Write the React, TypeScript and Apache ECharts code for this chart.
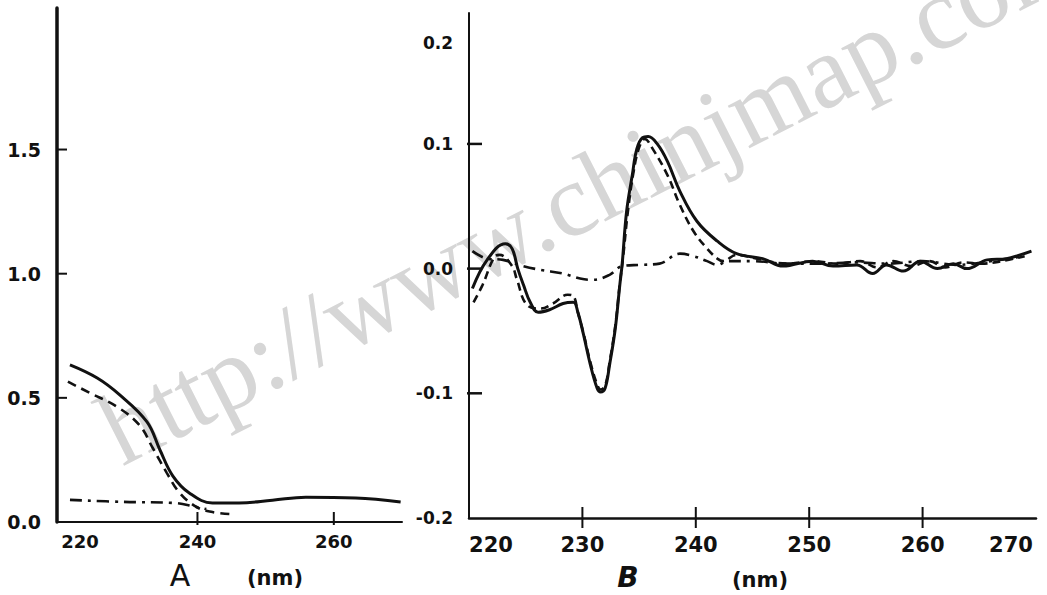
import React, { useEffect, useRef } from "react";
import * as echarts from "echarts";

// ---------- Panel A (absorbance) ----------
const aSolidNm = [221.3, 225.3, 228.6, 232.6, 234.5, 236.4, 238.8, 242.2, 246.1, 251.0, 255.9, 263.2, 269.8];
const aSolidVal = [0.633, 0.58, 0.512, 0.403, 0.29, 0.185, 0.117, 0.077, 0.077, 0.088, 0.1, 0.097, 0.081];
const aDashNm = [221.0, 224.2, 228.2, 231.5, 233.4, 235.5, 237.4, 239.9, 242.2, 244.7];
const aDashVal = [0.565, 0.52, 0.464, 0.39, 0.3, 0.198, 0.117, 0.06, 0.04, 0.032];
const aDotNm = [221.3, 229.1, 236.4, 239.9, 241.3];
const aDotVal = [0.089, 0.081, 0.077, 0.06, 0.052];
const aXRange = [219.4, 270];
const aYRange = [0, 2.07];
const aXLabels = [220, 240, 260];
const aXTicks = [240, 260];
const aYLabels = [0, 0.5, 1.0, 1.5];
const aYTicks = [0.5, 1.0, 1.5];

// ---------- Panel B (CD) ----------
const bSolidNm = [220.3, 221.6, 223.2, 223.8, 224.3, 224.8, 225.4, 226.1, 227.1, 228.3, 229.2, 229.6, 230.1, 230.7, 231.3, 231.6, 232.0, 232.4, 232.9, 233.3, 233.5, 233.9, 234.4, 234.8, 235.3, 235.8, 236.6, 237.5, 238.6, 240.1, 241.9, 243.6, 245.9, 247.7, 250.3, 252.1, 254.2, 255.6, 256.8, 258.3, 259.8, 261.3, 262.7, 263.9, 265.7, 267.4, 268.6, 269.6];
const bSolidVal = [-0.016, 0.007, 0.02, 0.016, 0.0, -0.013, -0.027, -0.035, -0.033, -0.028, -0.027, -0.035, -0.053, -0.077, -0.096, -0.099, -0.096, -0.077, -0.048, -0.013, 0.003, 0.046, 0.075, 0.096, 0.105, 0.106, 0.1, 0.086, 0.062, 0.038, 0.022, 0.012, 0.008, 0.002, 0.006, 0.002, 0.003, -0.004, 0.003, -0.002, 0.006, 0.0, 0.004, 0.0, 0.007, 0.008, 0.011, 0.014];
const bDashNm = [220.4, 221.2, 222.3, 222.7, 223.8, 224.2, 225.1, 226.3, 227.4, 228.7, 229.2, 229.6, 230.1, 230.7, 231.3, 231.6, 232.0, 232.4, 232.9, 233.3, 233.6, 234.0, 234.5, 235.0, 235.5, 236.2, 237.5, 238.6, 239.8, 241.0, 241.9, 242.4, 243.6, 245.4, 248.0, 250.5, 252.4, 254.5, 256.0, 257.4, 259.0, 260.6, 262.0, 263.6, 265.2, 267.0, 269.0];
const bDashVal = [-0.027, -0.013, 0.01, 0.011, 0.002, -0.008, -0.029, -0.032, -0.028, -0.021, -0.022, -0.035, -0.052, -0.075, -0.093, -0.097, -0.094, -0.075, -0.046, -0.012, 0.01, 0.045, 0.077, 0.097, 0.104, 0.096, 0.075, 0.051, 0.03, 0.016, 0.008, 0.006, 0.011, 0.008, 0.004, 0.006, 0.004, 0.006, 0.001, 0.006, 0.002, 0.006, 0.001, 0.005, 0.004, 0.006, 0.01];
const bDotNm = [220.3, 221.6, 223.0, 224.8, 226.3, 228.3, 229.8, 230.9, 232.4, 233.5, 235.1, 236.8, 238.6, 239.8, 241.0, 241.9, 242.8, 245.0, 248.0, 251.0, 254.0, 257.0, 260.0, 263.0, 266.0, 269.0];
const bDotVal = [0.014, 0.008, 0.007, 0.002, -0.001, -0.004, -0.008, -0.009, -0.005, 0.002, 0.003, 0.004, 0.012, 0.01, 0.006, 0.003, 0.006, 0.006, 0.004, 0.004, 0.005, 0.004, 0.006, 0.003, 0.006, 0.01];
const bXRange = [220, 270];
const bYRange = [-0.2, 0.205];
const bXLabels = [220, 230, 240, 250, 260, 270];
const bXTicks = [230, 240, 250, 260];
const bYLabels = [-0.2, -0.1, 0, 0.1, 0.2];
const bYTicks = [-0.1, 0, 0.1];

const INK = "#111111";
const FONT = "DejaVu Sans";

// plot boxes (pixels)
const GRID_A = { left: 57, top: 8, width: 345, height: 514 };
const GRID_B = { left: 469, top: 13, width: 567, height: 505 };

const pairs = (xs: number[], ys: number[]) => xs.map((x, i) => [x, ys[i]]);

export default function App() {
  const ref = useRef<HTMLDivElement>(null);
  useEffect(() => {
    if (!ref.current) return;
    const chart = echarts.init(ref.current, undefined, { renderer: "svg" });
    const labelFont = { fontFamily: FONT, fontWeight: "bold" as const, color: INK };
    const mkLine = (name: string, gi: number, data: number[][], type: any, width: number) => ({
      name,
      type: "line",
      xAxisIndex: gi,
      yAxisIndex: gi,
      data,
      smooth: 0.4,
      symbol: "none",
      lineStyle: { color: INK, width, type },
      z: 3,
    });
    // short tick segments drawn as tiny line series (pixel lengths converted into data units)
    const tickSeries: any[] = [];
    const addTick = (gi: number, seg: number[][], w: number) => {
      tickSeries.push({
        type: "line",
        xAxisIndex: gi,
        yAxisIndex: gi,
        data: seg,
        symbol: "none",
        clip: false,
        silent: true,
        smooth: false,
        z: 5,
        lineStyle: { color: INK, width: w, type: "solid" },
      });
    };
    const aPxX = GRID_A.width / (aXRange[1] - aXRange[0]);
    const aPxY = GRID_A.height / (aYRange[1] - aYRange[0]);
    const bPxX = GRID_B.width / (bXRange[1] - bXRange[0]);
    const bPxY = GRID_B.height / (bYRange[1] - bYRange[0]);
    aXTicks.forEach((v) => addTick(0, [[v, aYRange[0] - 3 / aPxY], [v, aYRange[0] + 10 / aPxY]], 2));
    aYTicks.forEach((v) => addTick(0, [[aXRange[0] - 7 / aPxX, v], [aXRange[0] + 10 / aPxX, v]], 2));
    bXTicks.forEach((v) => addTick(1, [[v, bYRange[0] - 10 / bPxY], [v, bYRange[0] + 11 / bPxY]], 2));
    bYTicks.forEach((v) => addTick(1, [[bXRange[0] - 7 / bPxX, v], [bXRange[0] + 13 / bPxX, v]], 2.5));

    const axisBase = (range: number[], width: number) => ({
      type: "value",
      min: range[0],
      max: range[1],
      axisLine: { onZero: false, lineStyle: { color: INK, width } },
      axisTick: { show: false },
      splitLine: { show: false },
    });
    chart.setOption({
      animation: false,
      backgroundColor: "#fff",
      grid: [GRID_A, GRID_B],
      xAxis: [
        {
          gridIndex: 0, ...axisBase(aXRange, 2),
          axisLabel: {
            customValues: aXLabels, margin: 10, fontSize: 18, ...labelFont,
            formatter: (v: number) => (v === 220 ? "{s|220}" : String(v)),
            rich: { s: { padding: [0, 0, 0, 38], fontSize: 18, ...labelFont } },
          },
        },
        {
          gridIndex: 1, ...axisBase(bXRange, 2.5),
          axisLabel: {
            customValues: bXLabels, margin: 16, fontSize: 21, ...labelFont,
            formatter: (v: number) => (v === 220 ? "{l|220}" : v === 270 ? "{r|270}" : String(v)),
            rich: {
              l: { padding: [0, 0, 0, 44], fontSize: 21, ...labelFont },
              r: { padding: [0, 50, 0, 0], fontSize: 21, ...labelFont },
            },
          },
        },
      ],
      yAxis: [
        {
          gridIndex: 0, ...axisBase(aYRange, 3.5),
          axisLabel: {
            customValues: aYLabels, margin: 16, fontSize: 19, ...labelFont,
            formatter: (v: number) => v.toFixed(1),
          },
        },
        {
          gridIndex: 1, ...axisBase(bYRange, 2),
          axisLabel: {
            customValues: bYLabels, margin: 16, fontSize: 17, ...labelFont,
            formatter: (v: number) => (v === 0.2 ? "{t|0.2}" : v.toFixed(1)),
            rich: { t: { padding: [48, 0, 0, 0], fontSize: 17, ...labelFont } },
          },
        },
      ],
      graphic: [
        {
          type: "text", x: 130, y: 482, rotation: 0.47, z: -10, silent: true,
          style: { text: "http://www.chinjmap.com", fontFamily: "Liberation Serif", fontSize: 104, fill: "#d6d6d6", textVerticalAlign: "bottom" },
        },
        { type: "text", x: 180, y: 575, style: { text: "A", fontFamily: FONT, fontSize: 30, fill: INK, align: "center", verticalAlign: "middle" } },
        { type: "text", x: 275, y: 578, style: { text: "(nm)", fontFamily: FONT, fontWeight: "bold", fontSize: 21, fill: INK, align: "center", verticalAlign: "middle" } },
        { type: "text", x: 628, y: 577, style: { text: "B", fontFamily: FONT, fontStyle: "italic", fontWeight: "bold", fontSize: 28, fill: INK, align: "center", verticalAlign: "middle" } },
        { type: "text", x: 760, y: 580, style: { text: "(nm)", fontFamily: FONT, fontWeight: "bold", fontSize: 21, fill: INK, align: "center", verticalAlign: "middle" } },
      ],
      series: [
        mkLine("A solid", 0, pairs(aSolidNm, aSolidVal), "solid", 3),
        mkLine("A dashed", 0, pairs(aDashNm, aDashVal), [9, 6], 2.6),
        mkLine("A dash-dot", 0, pairs(aDotNm, aDotVal), [12, 6, 3, 6], 2.6),
        mkLine("B solid", 1, pairs(bSolidNm, bSolidVal), "solid", 3),
        mkLine("B dashed", 1, pairs(bDashNm, bDashVal), [8, 5], 2.6),
        mkLine("B dash-dot", 1, pairs(bDotNm, bDotVal), [12, 6, 3, 6], 2.6),
        ...tickSeries,
      ],
    });
    return () => chart.dispose();
  }, []);
  return (
    <div
      ref={ref}
      style={{ position: "absolute", left: 0, top: 0, width: 1047, height: 595, background: "#fff" }}
    />
  );
}
